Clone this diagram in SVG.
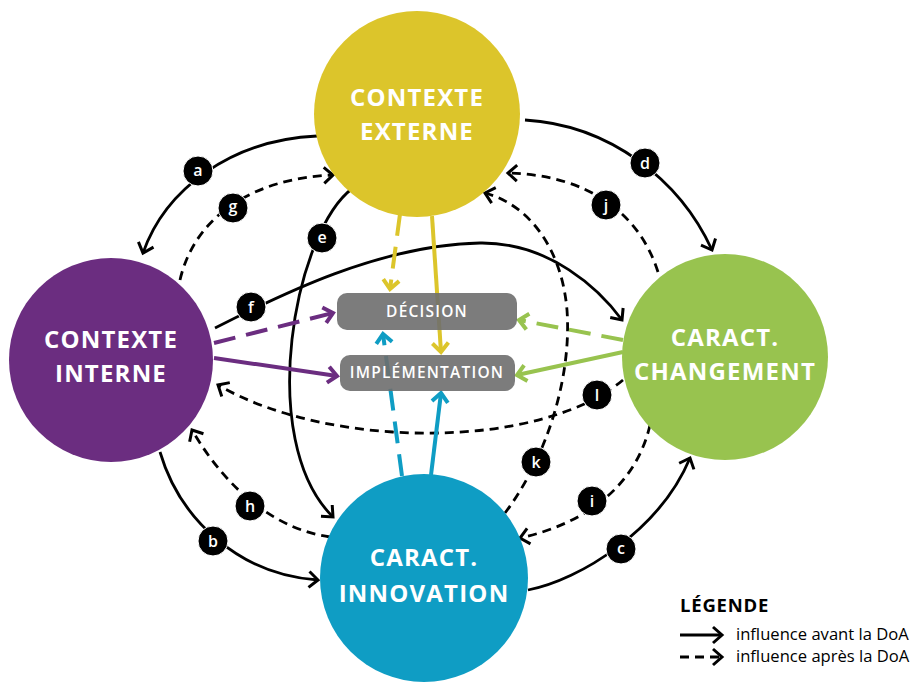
<svg xmlns="http://www.w3.org/2000/svg" width="914" height="682" viewBox="0 0 914 682">
<defs>
<marker id="ak" markerUnits="userSpaceOnUse" markerWidth="22" markerHeight="22" refX="11" refY="9" orient="auto" viewBox="0 0 22 18"><path d="M2,1 L11,9 L2,17" fill="none" stroke="#000" stroke-width="3"/></marker>
<marker id="ay" markerUnits="userSpaceOnUse" markerWidth="22" markerHeight="22" refX="11" refY="9" orient="auto" viewBox="0 0 22 18"><path d="M2,1 L11,9 L2,17" fill="none" stroke="#DCC52B" stroke-width="4"/></marker>
<marker id="ap" markerUnits="userSpaceOnUse" markerWidth="22" markerHeight="22" refX="11" refY="9" orient="auto" viewBox="0 0 22 18"><path d="M2,1 L11,9 L2,17" fill="none" stroke="#6B2D80" stroke-width="4"/></marker>
<marker id="ag" markerUnits="userSpaceOnUse" markerWidth="22" markerHeight="22" refX="11" refY="9" orient="auto" viewBox="0 0 22 18"><path d="M2,1 L11,9 L2,17" fill="none" stroke="#98C34F" stroke-width="4"/></marker>
<marker id="ab" markerUnits="userSpaceOnUse" markerWidth="22" markerHeight="22" refX="11" refY="9" orient="auto" viewBox="0 0 22 18"><path d="M2,1 L11,9 L2,17" fill="none" stroke="#0F9DC4" stroke-width="4"/></marker>
</defs>
<style>
.k{fill:none;stroke:#000;stroke-width:2.8;marker-end:url(#ak)}
.d{stroke-dasharray:9 6}
.c{stroke-width:4;fill:none}
.cd{stroke-dasharray:22 11}
.ct{font-family:"Open Sans","Noto Sans",sans-serif;font-weight:700;font-size:24px;fill:#fff;text-anchor:middle;letter-spacing:1.2px}
.bt{font-family:"Open Sans","Noto Sans",sans-serif;font-weight:600;font-size:15.5px;fill:#fff;text-anchor:middle;letter-spacing:1.2px}
.lb circle{fill:#000;stroke:#fff;stroke-width:1}
.lb text{font-family:"Open Sans","Noto Sans",sans-serif;font-weight:600;font-size:16px;fill:#fff;text-anchor:middle}
.lg{font-family:"Open Sans","Noto Sans",sans-serif;font-size:16.6px;fill:#000}
</style>
<rect width="914" height="682" fill="#fff"/>
<g id="connectors">
<path class="k" d="M 317 136 C 230 140, 165 190, 143 253"/>
<path class="k d" d="M 180 280 C 195 215, 255 178, 333 175"/>
<path class="k" d="M 353 188 C 295 230, 255 440, 333 517"/>
<path class="k" d="M 525 120 C 610 125, 680 180, 712 250"/>
<path class="k d" d="M 658 272 C 640 215, 590 175, 508 173"/>
<path class="k d" d="M 505 513 C 545 460, 572 380, 567 310 C 562 250, 530 205, 485 193"/>
<path class="k d" d="M 623 380 C 540 450, 330 450, 218 385"/>
<path class="k" d="M 215 328 C 280 295, 380 245, 480 243 C 550 242, 600 290, 622 320"/>
<path class="k d" d="M 330 537 C 280 530, 230 495, 192 430"/>
<path class="k" d="M 160 452 C 180 520, 240 575, 318 580"/>
<path class="k" d="M 528 590 C 580 580, 660 530, 690 458"/>
<path class="k d" d="M 650 425 C 635 490, 580 525, 520 538"/>
</g>
<g id="contexte-externe"><circle cx="417" cy="114" r="103" fill="#DCC52B"/><text class="ct" x="417" y="106">CONTEXTE</text><text class="ct" x="417" y="140">EXTERNE</text></g>
<g id="contexte-interne"><circle cx="111" cy="360" r="102" fill="#6B2D80"/><text class="ct" x="111" y="348">CONTEXTE</text><text class="ct" x="111" y="382">INTERNE</text></g>
<g id="caract-changement"><circle cx="725" cy="357" r="103" fill="#98C34F"/><text class="ct" x="725" y="346">CARACT.</text><text class="ct" x="725" y="380">CHANGEMENT</text></g>
<g id="caract-innovation"><circle cx="424" cy="578" r="104" fill="#0F9DC4"/><text class="ct" x="424" y="566">CARACT.</text><text class="ct" x="424" y="602">INNOVATION</text></g>
<g id="colored-connectors">
<path class="c cd" stroke="#DCC52B" marker-end="url(#ay)" d="M 400 214 L 390 289"/>
<path class="c" stroke="#DCC52B" marker-end="url(#ay)" d="M 432 216 L 441 352"/>
<path class="c cd" stroke="#6B2D80" marker-end="url(#ap)" d="M 214 343 L 333 313"/>
<path class="c" stroke="#6B2D80" marker-end="url(#ap)" d="M 214 358 L 337 376"/>
<path class="c cd" stroke="#98C34F" marker-end="url(#ag)" d="M 623 340 L 519 320"/>
<path class="c" stroke="#98C34F" marker-end="url(#ag)" d="M 623 352 L 517 375"/>
<path class="c cd" stroke="#0F9DC4" marker-end="url(#ab)" d="M 402 476 L 383 334"/>
<path class="c" stroke="#0F9DC4" marker-end="url(#ab)" d="M 431 475 L 441 393"/>
</g>
<g id="decision"><rect x="337" y="293" width="180" height="37" rx="10" fill="#6E6E6E" fill-opacity="0.9"/><text class="bt" x="427" y="317">DÉCISION</text></g>
<g id="implementation"><rect x="340" y="355" width="175" height="36" rx="10" fill="#6E6E6E" fill-opacity="0.9"/><text class="bt" x="427" y="378">IMPLÉMENTATION</text></g>
<g id="labels" class="lb">
<g><circle cx="198" cy="171" r="15"/><text x="198" y="176">a</text></g>
<g><circle cx="213" cy="541" r="15"/><text x="213" y="547">b</text></g>
<g><circle cx="621" cy="549" r="15"/><text x="621" y="554">c</text></g>
<g><circle cx="645" cy="163" r="15"/><text x="645" y="169">d</text></g>
<g><circle cx="322" cy="238" r="15"/><text x="322" y="243">e</text></g>
<g><circle cx="251" cy="307" r="15"/><text x="251" y="313">f</text></g>
<g><circle cx="233" cy="208" r="15"/><text x="233" y="212">g</text></g>
<g><circle cx="250" cy="506" r="15"/><text x="250" y="512">h</text></g>
<g><circle cx="592" cy="501" r="15"/><text x="592" y="507">i</text></g>
<g><circle cx="606" cy="205" r="15"/><text x="606" y="211">j</text></g>
<g><circle cx="536" cy="462" r="15"/><text x="536" y="468">k</text></g>
<g><circle cx="597" cy="395" r="15"/><text x="597" y="401">l</text></g>
</g>
<g id="legend">
<text x="680" y="612" font-family="'Open Sans','Noto Sans',sans-serif" font-weight="700" font-size="18.5" letter-spacing="0.8">LÉGENDE</text>
<path class="k" d="M 680 635 L 722 635"/>
<path class="k d" d="M 680 657 L 722 657" stroke-dasharray="8 5"/>
<text class="lg" x="736" y="640">influence avant la DoA</text>
<text class="lg" x="736" y="662">influence après la DoA</text>
</g>
</svg>
